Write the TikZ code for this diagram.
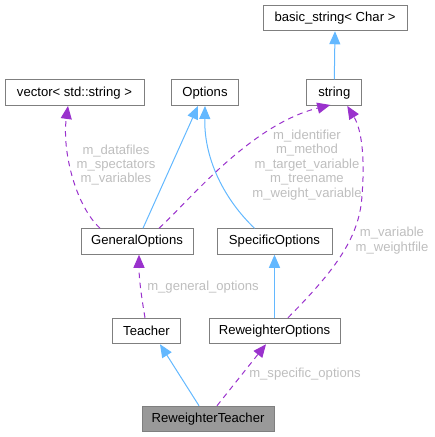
\documentclass[tikz,border=0pt]{standalone}
\usepackage{fontspec}
\setmainfont{Liberation Sans}
\usetikzlibrary{arrows.meta}
\definecolor{inh}{HTML}{63B8FF}
\definecolor{use}{HTML}{9A32CD}
\definecolor{lbl}{HTML}{BEBEBE}
\definecolor{bord}{HTML}{7F7F7F}
\definecolor{cur}{HTML}{999999}
\tikzset{
  cls/.style={draw=bord, line width=1pt, fill=white, minimum height=25.5pt, inner sep=0pt, font=\fontsize{13.1}{14.4}\selectfont, text=black},
  curcls/.style={cls, fill=cur},
  inhedge/.style={draw=inh, line width=1pt, -{Triangle[length=13pt,width=11pt]}},
  useedge/.style={draw=use, line width=1pt, dash pattern=on 5.5pt off 4.5pt, -{Triangle[length=13pt,width=11pt]}},
  lab/.style={text=lbl, font=\fontsize{13.1}{14.4}\selectfont, align=center, inner sep=0pt},
}
\begin{document}
\begin{tikzpicture}[x=1pt,y=-1pt]
\useasboundingbox (0,0) rectangle (435,437);
\node[cls, minimum width=144pt] (bs) at (335,18) {basic\_string< Char >};
\node[cls, minimum width=139pt] (vec) at (74.5,92.7) {vector< std::string >};
\node[cls, minimum width=67pt] (opt) at (205,92.7) {Options};
\node[cls, minimum width=55pt] (str) at (334.3,92.7) {string};
\node[cls, minimum width=112pt] (gen) at (137,241.5) {GeneralOptions};
\node[cls, minimum width=115pt] (spec) at (274.5,241.5) {SpecificOptions};
\node[cls, minimum width=68pt] (teach) at (146.5,331) {Teacher};
\node[cls, minimum width=131pt] (rwo) at (274.5,331) {ReweighterOptions};
\node[curcls, minimum width=132pt] (rwt) at (208,419) {ReweighterTeacher};

\draw[inhedge] (str.north) -- (bs.south);
\draw[inhedge] ([xshift=6pt]gen.north) -- ([xshift=-7pt]opt.south);
\draw[inhedge] ([xshift=-20pt]spec.north) .. controls (225,200) and (204,160) .. ([xshift=0pt]opt.south);
\draw[useedge] ([xshift=-37pt]gen.north) .. controls (75,205) and (62,150) .. ([xshift=-6.5pt]vec.south);
\draw[useedge] ([xshift=22pt]gen.north) .. controls (190,200) and (250,125) .. ([xshift=-32pt,yshift=1pt]str.south east);
\draw[useedge] ([xshift=13.5pt]rwo.north) .. controls (330,275) and (360,240) .. (362,195) .. controls (365,160) and (362,130) .. ([xshift=-15pt]str.south east);
\draw[inhedge] (rwo.north) -- (spec.south);
\draw[useedge] ([xshift=-1.5pt]teach.north) .. controls (142,300) and (139,280) .. ([xshift=2pt]gen.south);
\draw[inhedge] ([xshift=-9pt]rwt.north) -- ([xshift=13.5pt]teach.south);
\draw[useedge] ([xshift=9pt]rwt.north) -- ([xshift=-8.5pt]rwo.south);

\node[lab] (l1) at (116,165) {m\_datafiles\\m\_spectators\\m\_variables};
\node[lab] (l2) at (307,165) {m\_identifier\\m\_method\\m\_target\_variable\\m\_treename\\m\_weight\_variable};
\node[lab] (l3) at (392,240.5) {m\_variable\\m\_weightfile};
\node[lab] (l4) at (203,287) {m\_general\_options};
\node[lab] (l5) at (305,374.5) {m\_specific\_options};
\end{tikzpicture}
\end{document}
